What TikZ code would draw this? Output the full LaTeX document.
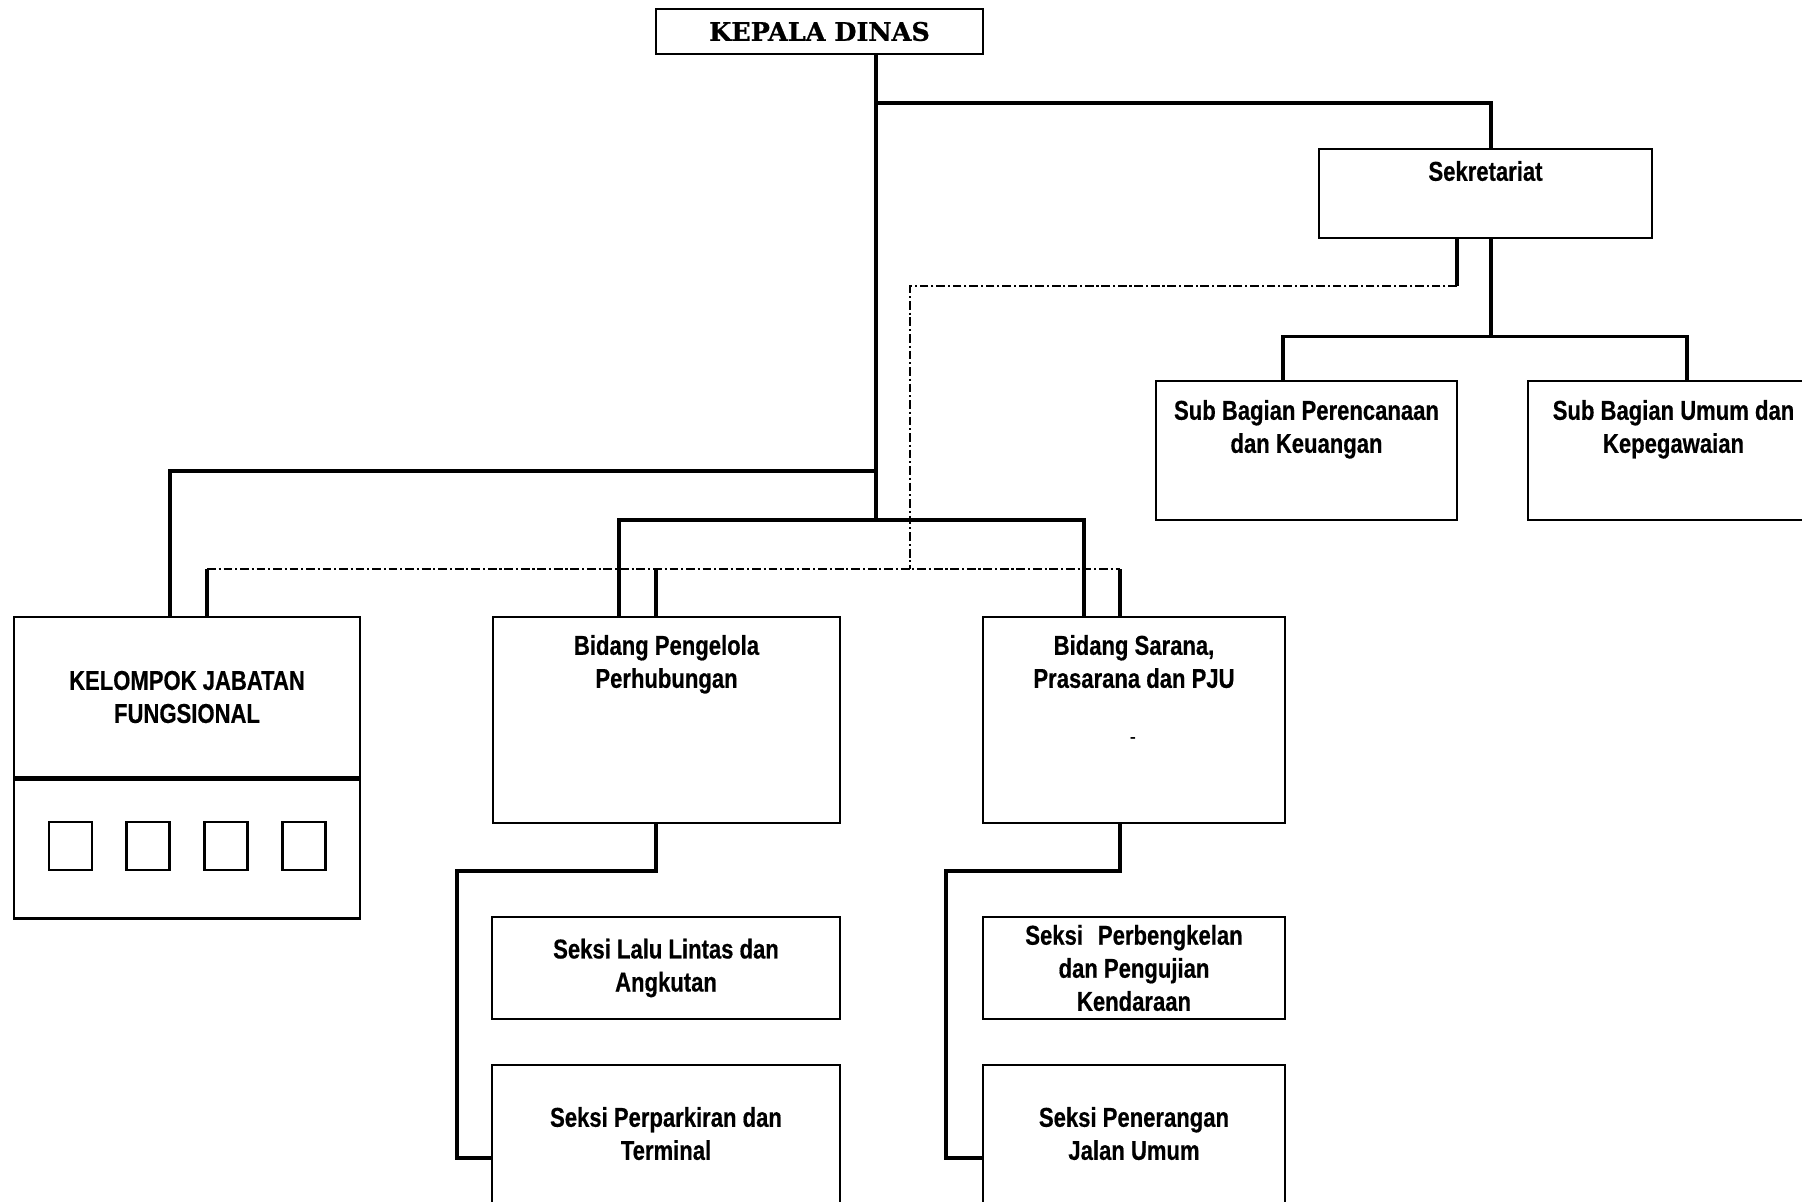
\documentclass[tikz,border=0pt]{standalone}
\usepackage{fontspec}
\setmainfont[FakeStretch=0.81, BoldFeatures={FakeBold=0.5}]{Liberation Sans}
\newfontfamily\headfont[BoldFeatures={FakeBold=0.8}]{DejaVu Serif}
\usepackage{tikz}
\usetikzlibrary{positioning}

\tikzset{
  unit/.style={draw, line width=1.5pt, inner sep=0pt, align=center, font=\fontsize{15.5}{18.8}\selectfont\bfseries},
  caption/.style={inner sep=0pt, align=center, font=\fontsize{15.5}{18.8}\selectfont\bfseries},
  line/.style={line width=2pt},
  coord/.style={line width=1pt, dash pattern=on 5pt off 1.6pt on 1.2pt off 1.6pt},
  slot/.style={draw, line width=1.4pt, minimum width=0.86cm, minimum height=0.96cm}
}

\begin{document}
\begin{tikzpicture}
  \useasboundingbox (0,0) rectangle (36.04,-24.04);

  % pimpinan dan sekretariat
  \node[unit, minimum width=6.54cm, minimum height=0.9cm, font=\headfont\fontsize{14.5}{16}\selectfont\bfseries] (kepala) at (16.39,-0.63) {KEPALA DINAS};
  \node[unit, minimum width=6.66cm, minimum height=1.78cm] (sek) at (29.71,-3.87) {};
  \node[caption, below=0.26cm of sek.north] (sektext) {Sekretariat};
  \node[unit, minimum width=6.02cm, minimum height=2.78cm] (subpk) at (26.13,-9.01) {};
  \node[caption, below=0.40cm of subpk.north] (subpktext) {Sub Bagian Perencanaan\\dan Keuangan};
  \node[unit, minimum width=6.02cm, minimum height=2.78cm] (subuk) at (33.57,-9.01) {};
  \node[caption, below=0.40cm of subuk.north, xshift=-0.1cm] (subuktext) {Sub Bagian Umum dan\\Kepegawaian};

  % kelompok jabatan fungsional
  \node[unit, minimum width=6.92cm, minimum height=3.2cm] (kjf) at (3.74,-13.94) {KELOMPOK JABATAN\\FUNGSIONAL};
  \node[unit, minimum width=6.92cm, minimum height=2.78cm, anchor=north] (kjfbox) at (kjf.south) {};
  \foreach \i/\x in {1/1.41,2/2.96,3/4.52,4/6.08}
    \node[slot] (slot\i) at (\x,-16.92) {};

  % bidang
  \node[unit, minimum width=6.94cm, minimum height=4.12cm] (bpp) at (13.33,-14.40) {};
  \node[caption, below=0.38cm of bpp.north] (bpptext) {Bidang Pengelola\\Perhubungan};
  \node[unit, minimum width=6.04cm, minimum height=4.12cm] (bsp) at (22.68,-14.40) {};
  \node[caption, below=0.38cm of bsp.north] (bsptext) {Bidang Sarana,\\Prasarana dan PJU};
  \node[caption, font=\fontsize{13}{14}\selectfont] (bspmark) at (22.66,-14.82) {-};

  % seksi
  \node[unit, minimum width=6.96cm, minimum height=2.04cm] (sll) at (13.32,-19.36) {Seksi Lalu Lintas dan\\Angkutan};
  \node[unit, minimum width=6.96cm, minimum height=3.72cm] (spt) at (13.32,-23.16) {};
  \node[caption, below=0.86cm of spt.north] (spttext) {Seksi Perparkiran dan\\Terminal};
  \node[unit, minimum width=6.04cm, minimum height=2.04cm] (spk) at (22.68,-19.36) {Seksi\hspace{0.55em}Perbengkelan\\dan Pengujian\\Kendaraan};
  \node[unit, minimum width=6.04cm, minimum height=3.72cm] (spj) at (22.68,-23.16) {};
  \node[caption, below=0.86cm of spj.north] (spjtext) {Seksi Penerangan\\Jalan Umum};

  % garis komando
  \coordinate (j1) at (17.52,-2.06);
  \coordinate (j2) at (17.52,-9.42);
  \coordinate (j3) at (17.52,-10.40);
  \draw[line] (kepala.south -| j1) -- (j3);
  \draw[line] (j1) -| ([xshift=0.11cm]sek.north);
  \draw[line] (j2) -| ([xshift=-0.34cm]kjf.north);
  \draw[line] ([xshift=-0.95cm]bpp.north) |- (j3) -| ([xshift=-1.0cm]bsp.north);
  \draw[line] ([xshift=0.11cm]sek.south) -- ++(0,-1.94) coordinate (j4);
  \draw[line] ([xshift=-0.47cm]subpk.north) |- (j4) -| ([xshift=0.17cm]subuk.north);

  \coordinate (railL) at (9.14,-17.42);
  \coordinate (railR) at (18.92,-17.42);
  \draw[line] ([xshift=-0.21cm]bpp.south) |- (railL) |- (spt.west);
  \draw[line] ([xshift=-0.28cm]bsp.south) |- (railR) |- (spj.west);

  % garis koordinasi
  \coordinate (dl) at (4.14,-11.38);
  \coordinate (dm) at (18.20,-11.38);
  \coordinate (dr) at (22.40,-11.38);
  \draw[line] ([xshift=-0.57cm]sek.south) -- ++(0,-0.94) coordinate (d1);
  \draw[coord] (d1) -| (dm);
  \draw[coord] (dl) -- (dr);
  \draw[line] (dl) -- ([xshift=0.40cm]kjf.north);
  \draw[line] ([xshift=-0.21cm]bpp.north |- dl) -- ([xshift=-0.21cm]bpp.north);
  \draw[line] (dr) -- ([xshift=-0.28cm]bsp.north);
\end{tikzpicture}
\end{document}
